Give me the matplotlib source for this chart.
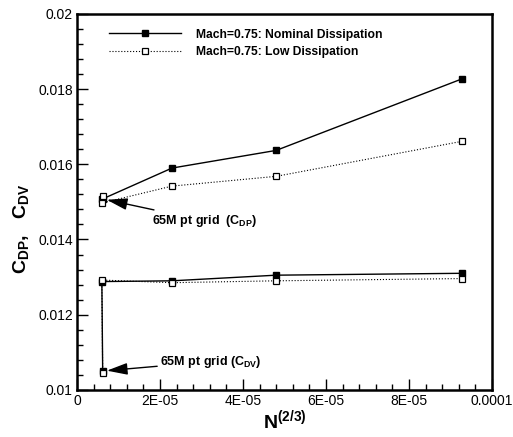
import matplotlib
matplotlib.use("Agg")
import matplotlib.pyplot as plt
from matplotlib.ticker import MultipleLocator, FuncFormatter

plt.rcParams["font.family"] = ["Liberation Sans", "DejaVu Sans"]
plt.rcParams["mathtext.fontset"] = "custom"
plt.rcParams["mathtext.rm"] = "Liberation Sans"
plt.rcParams["mathtext.bf"] = "Liberation Sans:bold"

# grid measure N^(2/3) for each grid, the 65M grid sits at the far left
x_grids = [6.0e-6, 2.29e-5, 4.8e-5, 9.27e-5]
x_65m = 6.2e-6

# pressure drag
cdp_nominal = [0.01507, 0.01590, 0.01637, 0.01827]
cdp_low = [0.01497, 0.01542, 0.01568, 0.01661]
cdp_nominal_65m = 0.01508
cdp_low_65m = 0.01515

# viscous drag
cdv_nominal = [0.01288, 0.01290, 0.01305, 0.01310]
cdv_low = [0.01292, 0.01285, 0.01290, 0.01296]
cdv_nominal_65m = 0.01050
cdv_low_65m = 0.01045

label_nominal = "Mach=0.75: Nominal Dissipation"
label_low = "Mach=0.75: Low Dissipation"


def fmt_x(v, pos):
    if abs(v) < 1e-12:
        return "0"
    if abs(v - 1e-4) < 1e-12:
        return "0.0001"
    return "%.0E" % v


def fmt_y(v, pos):
    return ("%.3f" % v).rstrip("0")


fig = plt.figure(figsize=(5.13, 4.37), dpi=100)
ax = fig.add_axes([0.150, 0.108, 0.809, 0.860])

ax.plot([x_65m] + x_grids, [cdp_nominal_65m] + cdp_nominal, color="black", lw=1.0,
        marker="s", ms=5, mfc="black", mec="black", label=label_nominal)
ax.plot([x_65m] + x_grids, [cdp_low_65m] + cdp_low, color="black", lw=0.8, ls=":",
        marker="s", ms=5, mfc="white", mec="black", mew=0.9, label=label_low)
ax.plot([x_65m] + x_grids, [cdv_nominal_65m] + cdv_nominal, color="black", lw=1.0,
        marker="s", ms=5, mfc="black", mec="black")
ax.plot([x_65m] + x_grids, [cdv_low_65m] + cdv_low, color="black", lw=0.8, ls=":",
        marker="s", ms=5, mfc="white", mec="black", mew=0.9)

ax.set_xlim(0, 1e-4)
ax.set_ylim(0.01, 0.02)
ax.xaxis.set_major_locator(MultipleLocator(2e-5))
ax.xaxis.set_minor_locator(MultipleLocator(4e-6))
ax.yaxis.set_major_locator(MultipleLocator(0.002))
ax.yaxis.set_minor_locator(MultipleLocator(0.0004))
ax.xaxis.set_major_formatter(FuncFormatter(fmt_x))
ax.yaxis.set_major_formatter(FuncFormatter(fmt_y))
ax.tick_params(which="both", direction="in", top=False, right=False,
               labelsize=10, width=1.0)
ax.tick_params(which="major", length=8, pad=3)
ax.tick_params(which="minor", length=4)
for s in ax.spines.values():
    s.set_linewidth(1.8)

ax.set_xlabel(r"$\mathbf{N^{(2/3)}}$", fontsize=14)
ax.xaxis.set_label_coords(0.5, -0.05)
ax.set_ylabel(r"$\mathbf{C_{DP},\ \ C_{DV}}$", fontsize=14)
ax.yaxis.set_label_coords(-0.11, 0.43)

ax.legend(loc="upper left", bbox_to_anchor=(0.05, 0.99), frameon=False,
          prop={"weight": "bold", "size": 8.7}, handlelength=6.0,
          handletextpad=1.2, labelspacing=0.45)

arrow = dict(arrowstyle="-|>,head_length=1.4,head_width=0.4", color="black",
             lw=1.0, shrinkA=0, shrinkB=3)
ax.annotate(r"65M pt grid  (C$_\mathbf{DP}$)", xy=(x_65m, cdp_nominal_65m),
            xytext=(1.8e-5, 0.01450), fontsize=9, fontweight="bold",
            va="center", ha="left", arrowprops=arrow)
ax.annotate(r"65M pt grid (C$_\mathbf{DV}$)", xy=(x_65m, cdv_nominal_65m),
            xytext=(2.0e-5, 0.01075), fontsize=9, fontweight="bold",
            va="center", ha="left", arrowprops=arrow)

fig.savefig("out.png", dpi=100)
